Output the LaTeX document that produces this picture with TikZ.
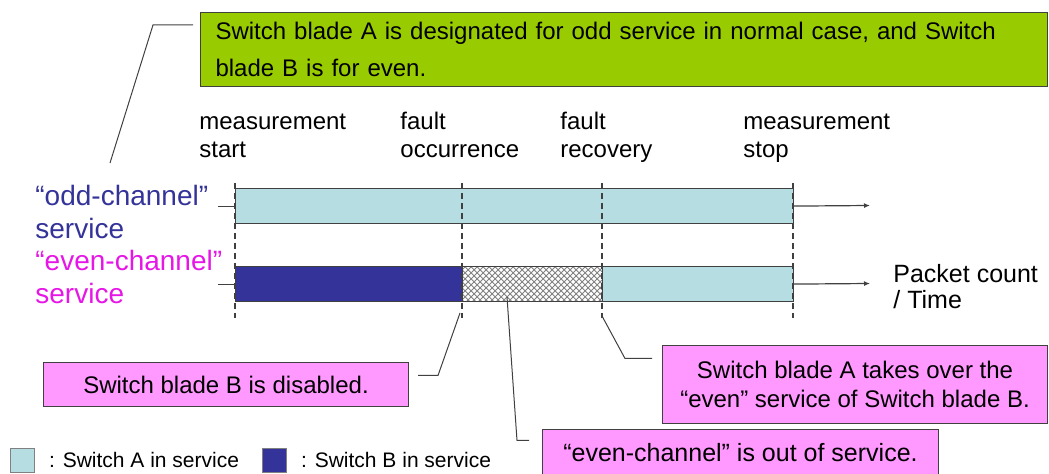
\documentclass[tikz,border=0pt]{standalone}
\usepackage{fontspec}
\setmainfont{Liberation Sans}
\usetikzlibrary{arrows.meta,patterns,positioning}
\definecolor{SwGreen}{HTML}{99CC00}
\definecolor{SwPink}{HTML}{FF99FF}
\definecolor{SwCyan}{HTML}{B6DEE2}
\definecolor{SwNavy}{HTML}{333399}
\definecolor{SwOdd}{HTML}{333399}
\definecolor{SwEven}{HTML}{E616E6}
\definecolor{SwLine}{HTML}{404040}

\begin{document}
\begin{tikzpicture}[
  x=0.5pt,y=-0.5pt,
  txt/.style={font=\fontsize{12}{14}\selectfont,inner sep=0pt,align=left,anchor=north west},
  label/.style={font=\fontsize{14}{16.5}\selectfont,inner sep=0pt,align=left,anchor=north west},
  note/.style={draw=SwLine,line width=0.5pt,anchor=north west,inner sep=0pt,align=center,font=\fontsize{12}{14.5}\selectfont},
  bar/.style={draw=SwLine,line width=0.6pt,inner sep=0pt,minimum height=17.5pt,anchor=north west},
  guide/.style={draw=SwLine,line width=0.6pt,dash pattern=on 3pt off 2pt},
  callout/.style={draw=SwLine,line width=0.5pt},
  axis/.style={-{Latex[length=3pt,width=2.5pt]},draw=SwLine,line width=0.6pt},
  swatch/.style={draw=gray,line width=0.4pt,minimum size=12pt,inner sep=0pt,anchor=north west}
]
\useasboundingbox (0,0) rectangle (1049,474);

% Top note.
\node[note,fill=SwGreen,minimum width=423.5pt,minimum height=37pt,text width=408.5pt,align=left,
  font=\fontsize{12}{18.5}\selectfont] (plan) at (200,12)
  {Switch blade A is designated for odd service in normal case, and Switch\\blade B is for even.};
\coordinate (planbend) at (153,25);
\coordinate (oddtip) at (110,163);
\draw[callout] ([xshift=-3.5pt]plan.west |- planbend) -- (planbend) -- (oddtip);

% Time marks.
\node[txt] (mstart) at (199,114) {measurement\\start};
\node[txt] (fstart) at (400,112) {fault\\occurrence};
\node[txt] (fstop) at (560,112) {fault\\recovery};
\node[txt] (mstop) at (743,114) {measurement\\stop};

% Service labels.
\node[label,text=SwOdd] (oddlbl) at (35,185) {“odd-channel”\\service};
\node[label,text=SwEven] (evenlbl) at (35,250) {“even-channel”\\service};

% Bars.
\node[bar,fill=SwCyan,minimum width=279pt] (odd) at (235,188) {};
\node[bar,fill=SwNavy,minimum width=113.5pt] (evenB) at (235,266) {};
\node[bar,pattern=crosshatch,pattern color=gray,minimum width=70pt] (evenX) at (462,266) {};
\node[bar,fill=SwCyan,minimum width=95.5pt] (evenA) at (602,266) {};
\draw[callout] (odd.west) -- ++(-17,0);
\draw[callout] (evenB.west) -- ++(-17,0);

\foreach \x in {235,462,602,793}
  \draw[guide] (\x,183) -- (\x,318);

% Time axis.
\coordinate (oddend) at (870,205.5);
\coordinate (evenend) at (870,283.5);
\draw[axis] (odd.east) -- (oddend);
\draw[axis] (evenA.east) -- (evenend);
\node[txt,font=\fontsize{12.5}{13}\selectfont] (time) at (893,264) {Packet count\\/ Time};

% Callouts.
\node[note,fill=SwPink,minimum width=182.5pt,minimum height=22pt] (disabled) at (43,362) {Switch blade B is disabled.};
\coordinate (faultpt) at (460,313);
\draw[callout] ([xshift=4.5pt,yshift=4.5pt]disabled.east) -- ++(20,0) -- (faultpt);

\node[note,fill=SwPink,minimum width=192.5pt,minimum height=39pt] (takeover) at (662,345)
  {Switch blade A takes over the\\“even” service of Switch blade B.};
\coordinate (recovpt) at (602,316);
\draw[callout] ([xshift=-5pt,yshift=13pt]takeover.west) -- ++(-27,0) -- (recovpt);

\node[note,fill=SwPink,minimum width=198pt,minimum height=23pt,font=\fontsize{12.5}{14.5}\selectfont] (outage) at (542,429)
  {“even-channel” is out of service.};
\coordinate (hatchpt) at (507,297);
\draw[callout] ([xshift=-6.5pt,yshift=6pt]outage.west) -- ++(-12,0) -- (hatchpt);

% Legend.
\node[swatch,fill=SwCyan] (keyA) at (10,448) {};
\node[txt,font=\fontsize{10.5}{13}\selectfont,anchor=west,right=7pt of keyA] (keyAtxt) {: Switch A in service};
\node[swatch,fill=SwNavy] (keyB) at (262,448) {};
\node[txt,font=\fontsize{10.5}{13}\selectfont,anchor=west,right=7pt of keyB] (keyBtxt) {: Switch B in service};
\end{tikzpicture}
\end{document}
